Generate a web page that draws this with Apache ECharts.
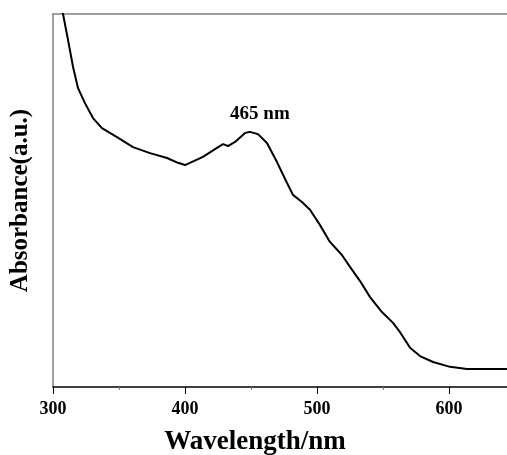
<!DOCTYPE html>
<html>
<head>
<meta charset="utf-8">
<script src="https://cdn.jsdelivr.net/npm/echarts@6/dist/echarts.min.js"></script>
<style>html,body{margin:0;padding:0;background:#fff}#c{width:507px;height:455px}</style>
</head>
<body>
<div id="c"></div>
<script>
const wavelength = [306.5,307.6,311.4,315.2,318.9,324.2,330.3,337.1,348.5,360.6,373.5,386.4,394.7,400.0,413.6,424.2,428.8,432.6,437.9,445.5,449.2,455.3,462.1,469.7,477.3,481.8,488.6,494.7,502.3,509.8,518.9,525.0,532.6,540.2,549.2,557.6,562.9,568.2,570.5,578.0,587.9,600.8,613.6,625.8,643.9];
const absorbance = [1.03,1.000,0.930,0.858,0.802,0.761,0.721,0.694,0.670,0.643,0.627,0.614,0.601,0.595,0.617,0.641,0.651,0.646,0.657,0.681,0.684,0.678,0.654,0.603,0.547,0.515,0.496,0.475,0.434,0.389,0.354,0.322,0.284,0.241,0.201,0.172,0.147,0.118,0.105,0.083,0.067,0.054,0.048,0.048,0.048];
const xTicks = [300,400,500,600];
const peakLabel = '465 nm';
const peakPoint = [449.2, 0.684];

const chart = echarts.init(document.getElementById('c'), null, {renderer:'canvas'});
const serif = 'Liberation Serif, Times New Roman, serif';
chart.setOption({
  animation:false,
  backgroundColor:'#fff',
  grid:{left:53, right:-74, top:14, bottom:68, containLabel:false, outerBoundsMode:'none'},
  xAxis:[{
    type:'value', position:'bottom', min:300, max:700, interval:100,
    name:'Wavelength/nm', nameLocation:'middle', nameGap:42,
    nameTextStyle:{fontFamily:serif, fontWeight:'bold', fontSize:27, color:'#000', padding:[0,0,0,-124]},
    axisLine:{show:true, lineStyle:{color:'#000', width:1.5}},
    axisTick:{show:true, inside:false, length:7, lineStyle:{color:'#000', width:1}},
    minorTick:{show:true, splitNumber:2, length:3, lineStyle:{color:'#777', width:1}},
    splitLine:{show:false},
    axisLabel:{margin:13, fontFamily:serif, fontWeight:'bold', fontSize:18, color:'#000',
      formatter:function(v){return xTicks.indexOf(v)>=0 ? String(v) : '';}}
  },{
    type:'value', position:'top', min:300, max:700,
    axisLine:{show:true, lineStyle:{color:'#808080', width:1.5}},
    axisTick:{show:false}, axisLabel:{show:false}, splitLine:{show:false}
  }],
  yAxis:{
    type:'value', min:0, max:1,
    name:'Absorbance(a.u.)', nameLocation:'middle', nameGap:20,
    nameTextStyle:{fontFamily:serif, fontWeight:'bold', fontSize:25, color:'#000'},
    axisLine:{show:true, lineStyle:{color:'#808080', width:1.5}},
    axisTick:{show:false}, axisLabel:{show:false}, splitLine:{show:false}
  },
  series:[{
    type:'line', xAxisIndex:0,
    data: wavelength.map((w,i)=>[w, absorbance[i]]),
    showSymbol:false, symbol:'none', smooth:false, clip:true,
    lineStyle:{color:'#000', width:2},
    markPoint:{
      symbol:'circle', symbolSize:0,
      data:[{coord:peakPoint, value:peakLabel}],
      label:{show:true, formatter:peakLabel, offset:[10,-18], fontFamily:serif, fontWeight:'bold', fontSize:19, color:'#000'}
    }
  }]
});
</script>
</body>
</html>
